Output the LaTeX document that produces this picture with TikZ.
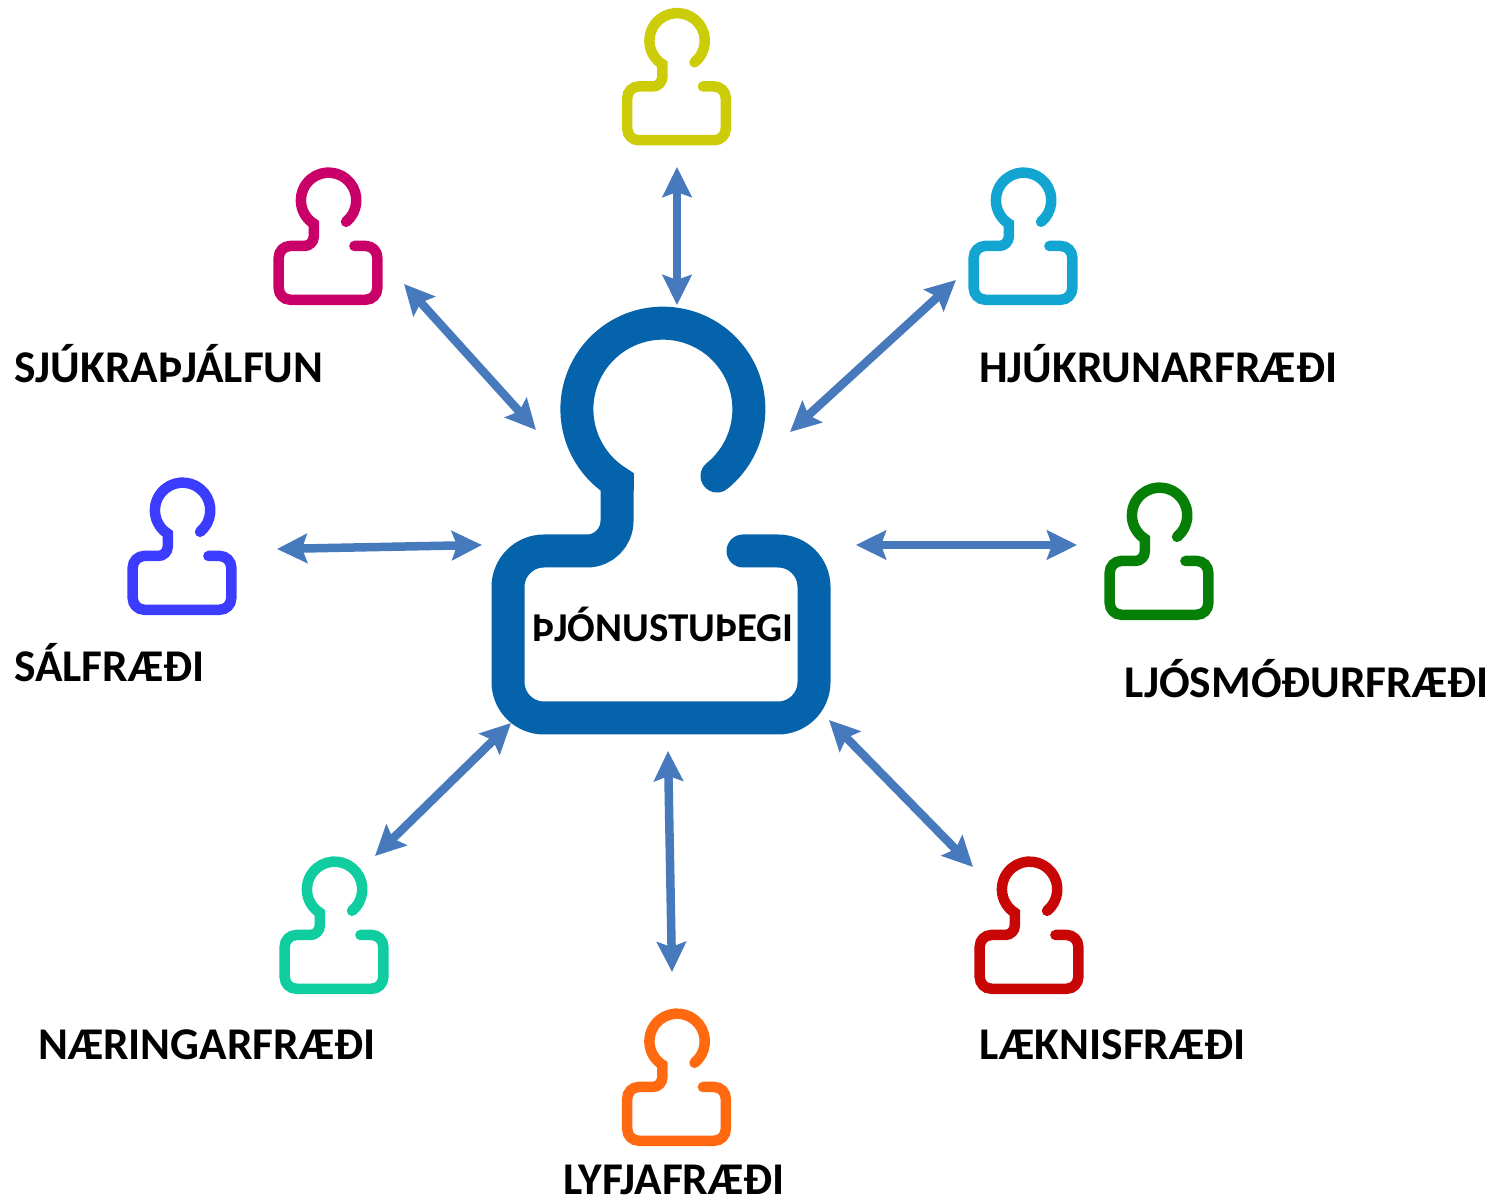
\documentclass[tikz,border=0pt]{standalone}
\usepackage{fontspec}
\setmainfont{Carlito}
\usetikzlibrary{arrows.meta}
\definecolor{cmain}{HTML}{0563AB}
\definecolor{carrow}{HTML}{467ABD}
\definecolor{cyellow}{HTML}{CCCC08}
\definecolor{cmagenta}{HTML}{C80068}
\definecolor{ccyan}{HTML}{12A5D1}
\definecolor{cblue}{HTML}{3C3CFF}
\definecolor{cgreen}{HTML}{067F06}
\definecolor{cteal}{HTML}{10CDA0}
\definecolor{cred}{HTML}{C80606}
\definecolor{corange}{HTML}{FF6A10}
\tikzset{
  x=1pt,y=1pt,
  person/.pic={
    \draw[pic actions,line cap=round,line join=miter]
      (56,44) arc[start angle=-51,end angle=238,radius=86]
      -- (-44,-1) arc[start angle=0,end angle=-90,radius=30]
      -- (-117,-31) arc[start angle=90,end angle=180,radius=36]
      -- (-153,-162) arc[start angle=180,end angle=270,radius=36]
      -- (117,-198) arc[start angle=270,end angle=360,radius=36]
      -- (153,-67) arc[start angle=0,end angle=90,radius=36]
      -- (82,-31);
  },
  smallperson/.style={scale=.322,line width=10.5pt},
  bigperson/.style={line width=33pt},
  link/.style={draw=carrow,line width=8.5pt,
    {Stealth[length=30pt,width=29pt,inset=5pt]}-{Stealth[length=30pt,width=29pt,inset=5pt]}},
  lab/.style={font=\bfseries\fontsize{45.4}{46}\selectfont,text=black,inner sep=0pt,anchor=base west},
  mainlab/.style={font=\bfseries\fontsize{41}{41}\selectfont,text=black,inner sep=0pt,anchor=base west},
}
\begin{document}
\begin{tikzpicture}
\useasboundingbox (0,0) rectangle (1501,1203);
% icons (y = 1203 - screen y)
\pic[bigperson,draw=cmain] at (661,683) {person};
\pic[smallperson,draw=cyellow] at (676.5,1126.5) {person};
\pic[smallperson,draw=cmagenta] at (328,967) {person};
\pic[smallperson,draw=ccyan] at (1023,967) {person};
\pic[smallperson,draw=cblue] at (182,657) {person};
\pic[smallperson,draw=cgreen] at (1159,652) {person};
\pic[smallperson,draw=cteal] at (334,278) {person};
\pic[smallperson,draw=cred] at (1029,278) {person};
\pic[smallperson,draw=corange] at (676.5,126) {person};
% labels
\node[mainlab] (lmain) at (532,561) {ÞJÓNUSTUÞEGI};
\node[lab] (lsjuk) at (14,820) {SJÚKRAÞJÁLFUN};
\node[lab] (lhjuk) at (979,820) {HJÚKRUNARFRÆÐI};
\node[lab] (lsal) at (14,521) {SÁLFRÆÐI};
\node[lab] (lljos) at (1124,505) {LJÓSMÓÐURFRÆÐI};
\node[lab] (lnaer) at (38,144) {NÆRINGARFRÆÐI};
\node[lab] (llaek) at (979,144) {LÆKNISFRÆÐI};
\node[lab] (llyf) at (563,9) {LYFJAFRÆÐI};
% connector ends
\coordinate (a1) at (677,1036); \coordinate (b1) at (677,898);
\coordinate (a2) at (404,919);  \coordinate (b2) at (536,773);
\coordinate (a3) at (956,923);  \coordinate (b3) at (790,771);
\coordinate (a4) at (277,654);  \coordinate (b4) at (482,658);
\coordinate (a5) at (1077,658); \coordinate (b5) at (856,658);
\coordinate (a6) at (375,347);  \coordinate (b6) at (511,480);
\coordinate (a7) at (973,336);  \coordinate (b7) at (829,483);
\coordinate (a8) at (672,231);  \coordinate (b8) at (668,452);
\foreach \i in {1,...,8} \draw[link] (a\i) -- (b\i);
\end{tikzpicture}
\end{document}
